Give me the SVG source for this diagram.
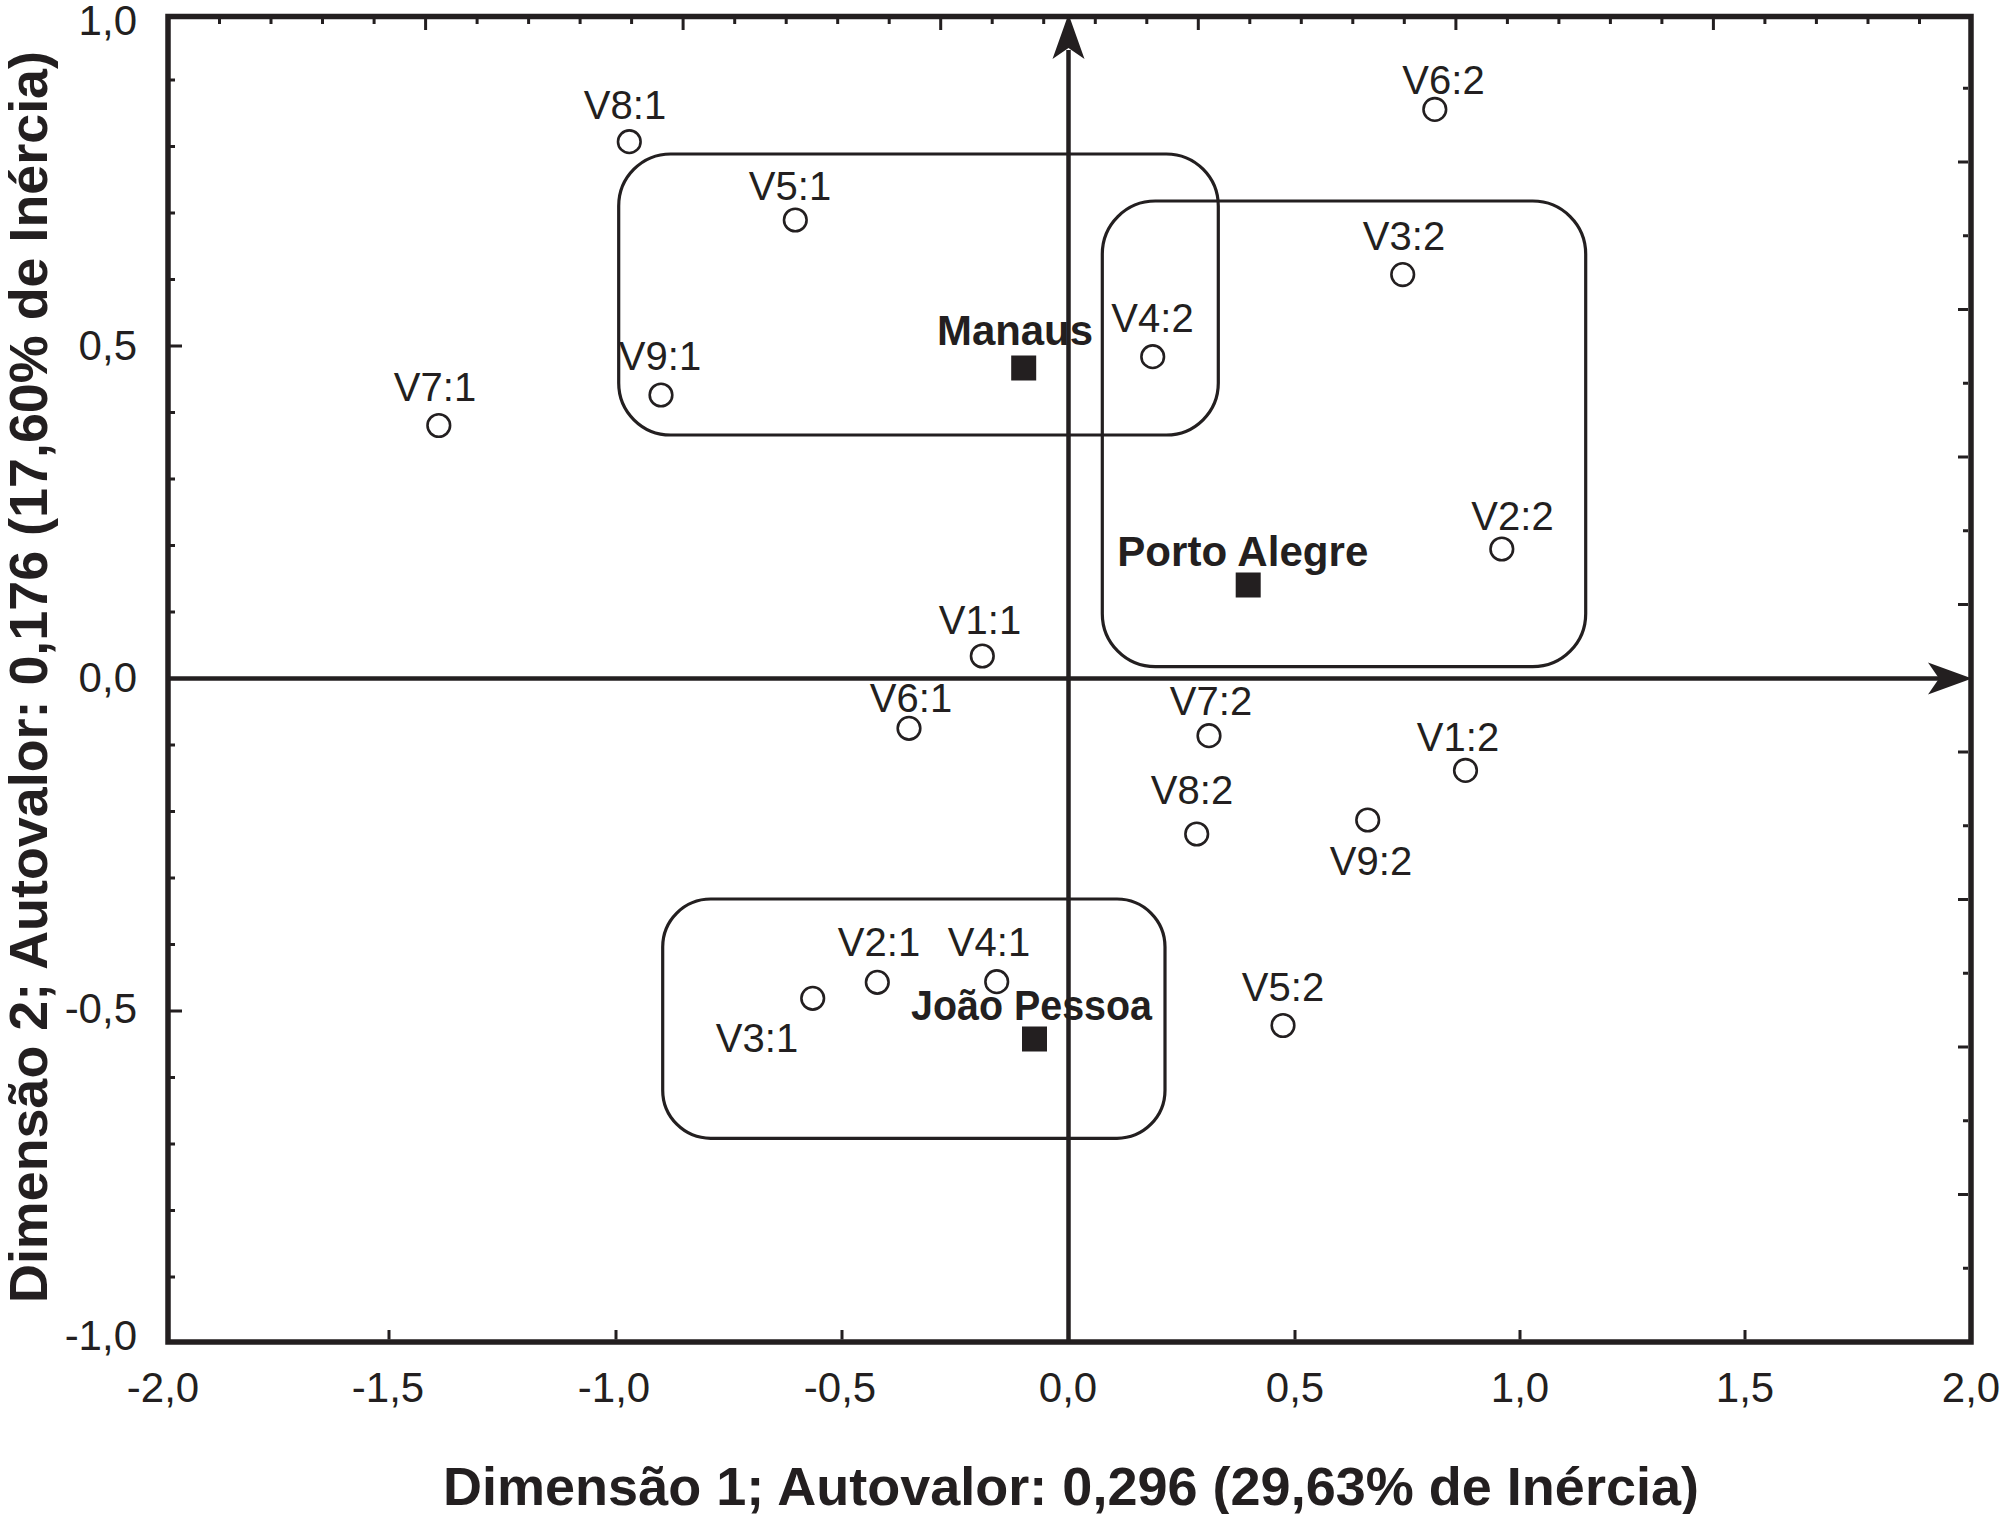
<svg xmlns="http://www.w3.org/2000/svg" width="2000" height="1514" viewBox="0 0 2000 1514">
<defs>
<style>
.lbl{font-family:"Liberation Sans",Arial,sans-serif;font-size:40px;fill:#231f20;text-anchor:middle}
.tick{font-family:"Liberation Sans",Arial,sans-serif;font-size:42px;fill:#231f20}
.city{font-family:"Liberation Sans",Arial,sans-serif;font-size:42px;font-weight:bold;fill:#231f20}
.title{font-family:"Liberation Sans",Arial,sans-serif;font-size:54px;font-weight:bold;fill:#231f20;text-anchor:middle}
.pt{fill:none;stroke:#231f20;stroke-width:2.6}
.sq{fill:#231f20}
.box{fill:none;stroke:#231f20;stroke-width:3.2}
.tk{stroke:#231f20;stroke-width:3;fill:none}
</style>
</defs>
<rect width="2000" height="1514" fill="#ffffff"/>

<g id="frame">
<rect x="168" y="16.5" width="1803" height="1325.5" fill="none" stroke="#231f20" stroke-width="5.5"/>
<path class="tk" d="M219.5 19V24M271 19V24M322.5 19V24M374.1 19V24M477.1 19V24M528.6 19V24M580.1 19V24M631.6 19V24M734.7 19V24M786.2 19V24M837.7 19V24M889.2 19V24M992.2 19V24M1043.7 19V24M1095.3 19V24M1146.8 19V24M1249.8 19V24M1301.3 19V24M1352.8 19V24M1404.3 19V24M1507.4 19V24M1558.9 19V24M1610.4 19V24M1661.9 19V24M1764.9 19V24M1816.4 19V24M1868 19V24M1919.5 19V24"/>
<path class="tk" d="M425.6 19V30M683.1 19V30M940.7 19V30M1198.3 19V30M1455.9 19V30M1713.4 19V30"/>
<path class="tk" d="M170 80H175M170 146.5H175M170 213H175M170 279.5H175M170 412.5H175M170 479H175M170 545.5H175M170 612H175M170 745H175M170 811.5H175M170 878H175M170 944.5H175M170 1077.5H175M170 1144H175M170 1210.5H175M170 1277H175"/>
<path class="tk" d="M170 346H182M170 1011H182"/>
<path class="tk" d="M1968 88.3H1963M1968 235.8H1963M1968 383.3H1963M1968 530.8H1963M1968 825.7H1963M1968 973.2H1963M1968 1120.7H1963M1968 1268.2H1963"/>
<path class="tk" d="M1968 162.1H1958M1968 309.6H1958M1968 457H1958M1968 604.5H1958M1968 752H1958M1968 899.5H1958M1968 1047H1958M1968 1194.4H1958"/>
<path class="tk" d="M389 1339.5V1330M616 1339.5V1330M842 1339.5V1330M1295 1339.5V1330M1520 1339.5V1330M1745 1339.5V1330"/>
</g>

<g id="tick-labels">
<text class="tick" text-anchor="end" x="137" y="35">1,0</text>
<text class="tick" text-anchor="end" x="137" y="360">0,5</text>
<text class="tick" text-anchor="end" x="137" y="692">0,0</text>
<text class="tick" text-anchor="end" x="137" y="1023">-0,5</text>
<text class="tick" text-anchor="end" x="137" y="1350">-1,0</text>
<text class="tick" text-anchor="middle" x="163" y="1402">-2,0</text>
<text class="tick" text-anchor="middle" x="388" y="1402">-1,5</text>
<text class="tick" text-anchor="middle" x="614" y="1402">-1,0</text>
<text class="tick" text-anchor="middle" x="840" y="1402">-0,5</text>
<text class="tick" text-anchor="middle" x="1068" y="1402">0,0</text>
<text class="tick" text-anchor="middle" x="1295" y="1402">0,5</text>
<text class="tick" text-anchor="middle" x="1520" y="1402">1,0</text>
<text class="tick" text-anchor="middle" x="1745" y="1402">1,5</text>
<text class="tick" text-anchor="middle" x="1971" y="1402">2,0</text>
</g>

<g id="axis-titles">
<text class="title" x="1071" y="1505" textLength="1256" lengthAdjust="spacingAndGlyphs">Dimensão 1; Autovalor: 0,296 (29,63% de Inércia)</text>
<text class="title" transform="translate(47 677) rotate(-90)" x="0" y="0" textLength="1252" lengthAdjust="spacingAndGlyphs">Dimensão 2; Autovalor: 0,176 (17,60% de Inércia)</text>
</g>

<g id="connectors">
<line x1="1068.5" y1="1342" x2="1068.5" y2="50" stroke="#231f20" stroke-width="4.5"/>
<polygon points="1068.5,14 1084.5,59 1068.5,48 1052.5,59" fill="#231f20"/>
<line x1="168" y1="678.5" x2="1940" y2="678.5" stroke="#231f20" stroke-width="4.5"/>
<polygon points="1972,678.5 1928,694.5 1939,678.5 1928,662.5" fill="#231f20"/>
</g>

<g id="group-manaus"><rect class="box" x="618.7" y="154" width="599.6" height="281" rx="52" ry="52"/></g>
<g id="group-porto-alegre"><rect class="box" x="1102.3" y="201" width="483.4" height="465.7" rx="53" ry="53"/></g>
<g id="group-joao-pessoa"><rect class="box" x="662.7" y="899" width="502.3" height="239.3" rx="48" ry="48"/></g>

<g id="manaus"><rect class="sq" x="1011.2" y="355.5" width="25" height="25"/><text class="city" x="937" y="344.5" textLength="156" lengthAdjust="spacingAndGlyphs">Manaus</text></g>
<g id="porto-alegre"><rect class="sq" x="1235.7" y="572.5" width="25" height="25"/><text class="city" x="1117.3" y="565.7" textLength="251" lengthAdjust="spacingAndGlyphs">Porto Alegre</text></g>
<g id="joao-pessoa"><rect class="sq" x="1022" y="1026.5" width="25" height="25"/><text class="city" x="911" y="1020" textLength="241" lengthAdjust="spacingAndGlyphs">João Pessoa</text></g>

<g id="V8-1"><circle class="pt" cx="629.3" cy="141.7" r="11.3"/><text class="lbl" x="625" y="119.3">V8:1</text></g>
<g id="V5-1"><circle class="pt" cx="795.3" cy="220" r="11.3"/><text class="lbl" x="790" y="200">V5:1</text></g>
<g id="V9-1"><circle class="pt" cx="661" cy="395" r="11.3"/><text class="lbl" x="660" y="370">V9:1</text></g>
<g id="V7-1"><circle class="pt" cx="438.8" cy="425.5" r="11.3"/><text class="lbl" x="435" y="401">V7:1</text></g>
<g id="V6-2"><circle class="pt" cx="1434.8" cy="109.4" r="11.3"/><text class="lbl" x="1443.5" y="93.8">V6:2</text></g>
<g id="V3-2"><circle class="pt" cx="1402.7" cy="274.6" r="11.3"/><text class="lbl" x="1404" y="250">V3:2</text></g>
<g id="V4-2"><circle class="pt" cx="1152.7" cy="356.7" r="11.3"/><text class="lbl" x="1152.5" y="331.7">V4:2</text></g>
<g id="V2-2"><circle class="pt" cx="1501.8" cy="549" r="11.3"/><text class="lbl" x="1512.5" y="530">V2:2</text></g>
<g id="V1-1"><circle class="pt" cx="982.3" cy="656" r="11.3"/><text class="lbl" x="980" y="634">V1:1</text></g>
<g id="V6-1"><circle class="pt" cx="909" cy="728.3" r="11.3"/><text class="lbl" x="911" y="712">V6:1</text></g>
<g id="V7-2"><circle class="pt" cx="1209" cy="735.7" r="11.3"/><text class="lbl" x="1211" y="715">V7:2</text></g>
<g id="V1-2"><circle class="pt" cx="1465.5" cy="770.4" r="11.3"/><text class="lbl" x="1458" y="751">V1:2</text></g>
<g id="V9-2"><circle class="pt" cx="1367.7" cy="820" r="11.3"/><text class="lbl" x="1371" y="875">V9:2</text></g>
<g id="V8-2"><circle class="pt" cx="1196.7" cy="834" r="11.3"/><text class="lbl" x="1192" y="804">V8:2</text></g>
<g id="V2-1"><circle class="pt" cx="877.3" cy="982.3" r="11.3"/><text class="lbl" x="879" y="956">V2:1</text></g>
<g id="V4-1"><circle class="pt" cx="996.7" cy="981.7" r="11.3"/><text class="lbl" x="989" y="956">V4:1</text></g>
<g id="V3-1"><circle class="pt" cx="812.7" cy="998.3" r="11.3"/><text class="lbl" x="757" y="1052.3">V3:1</text></g>
<g id="V5-2"><circle class="pt" cx="1283" cy="1025.5" r="11.3"/><text class="lbl" x="1283" y="1001">V5:2</text></g>
</svg>
